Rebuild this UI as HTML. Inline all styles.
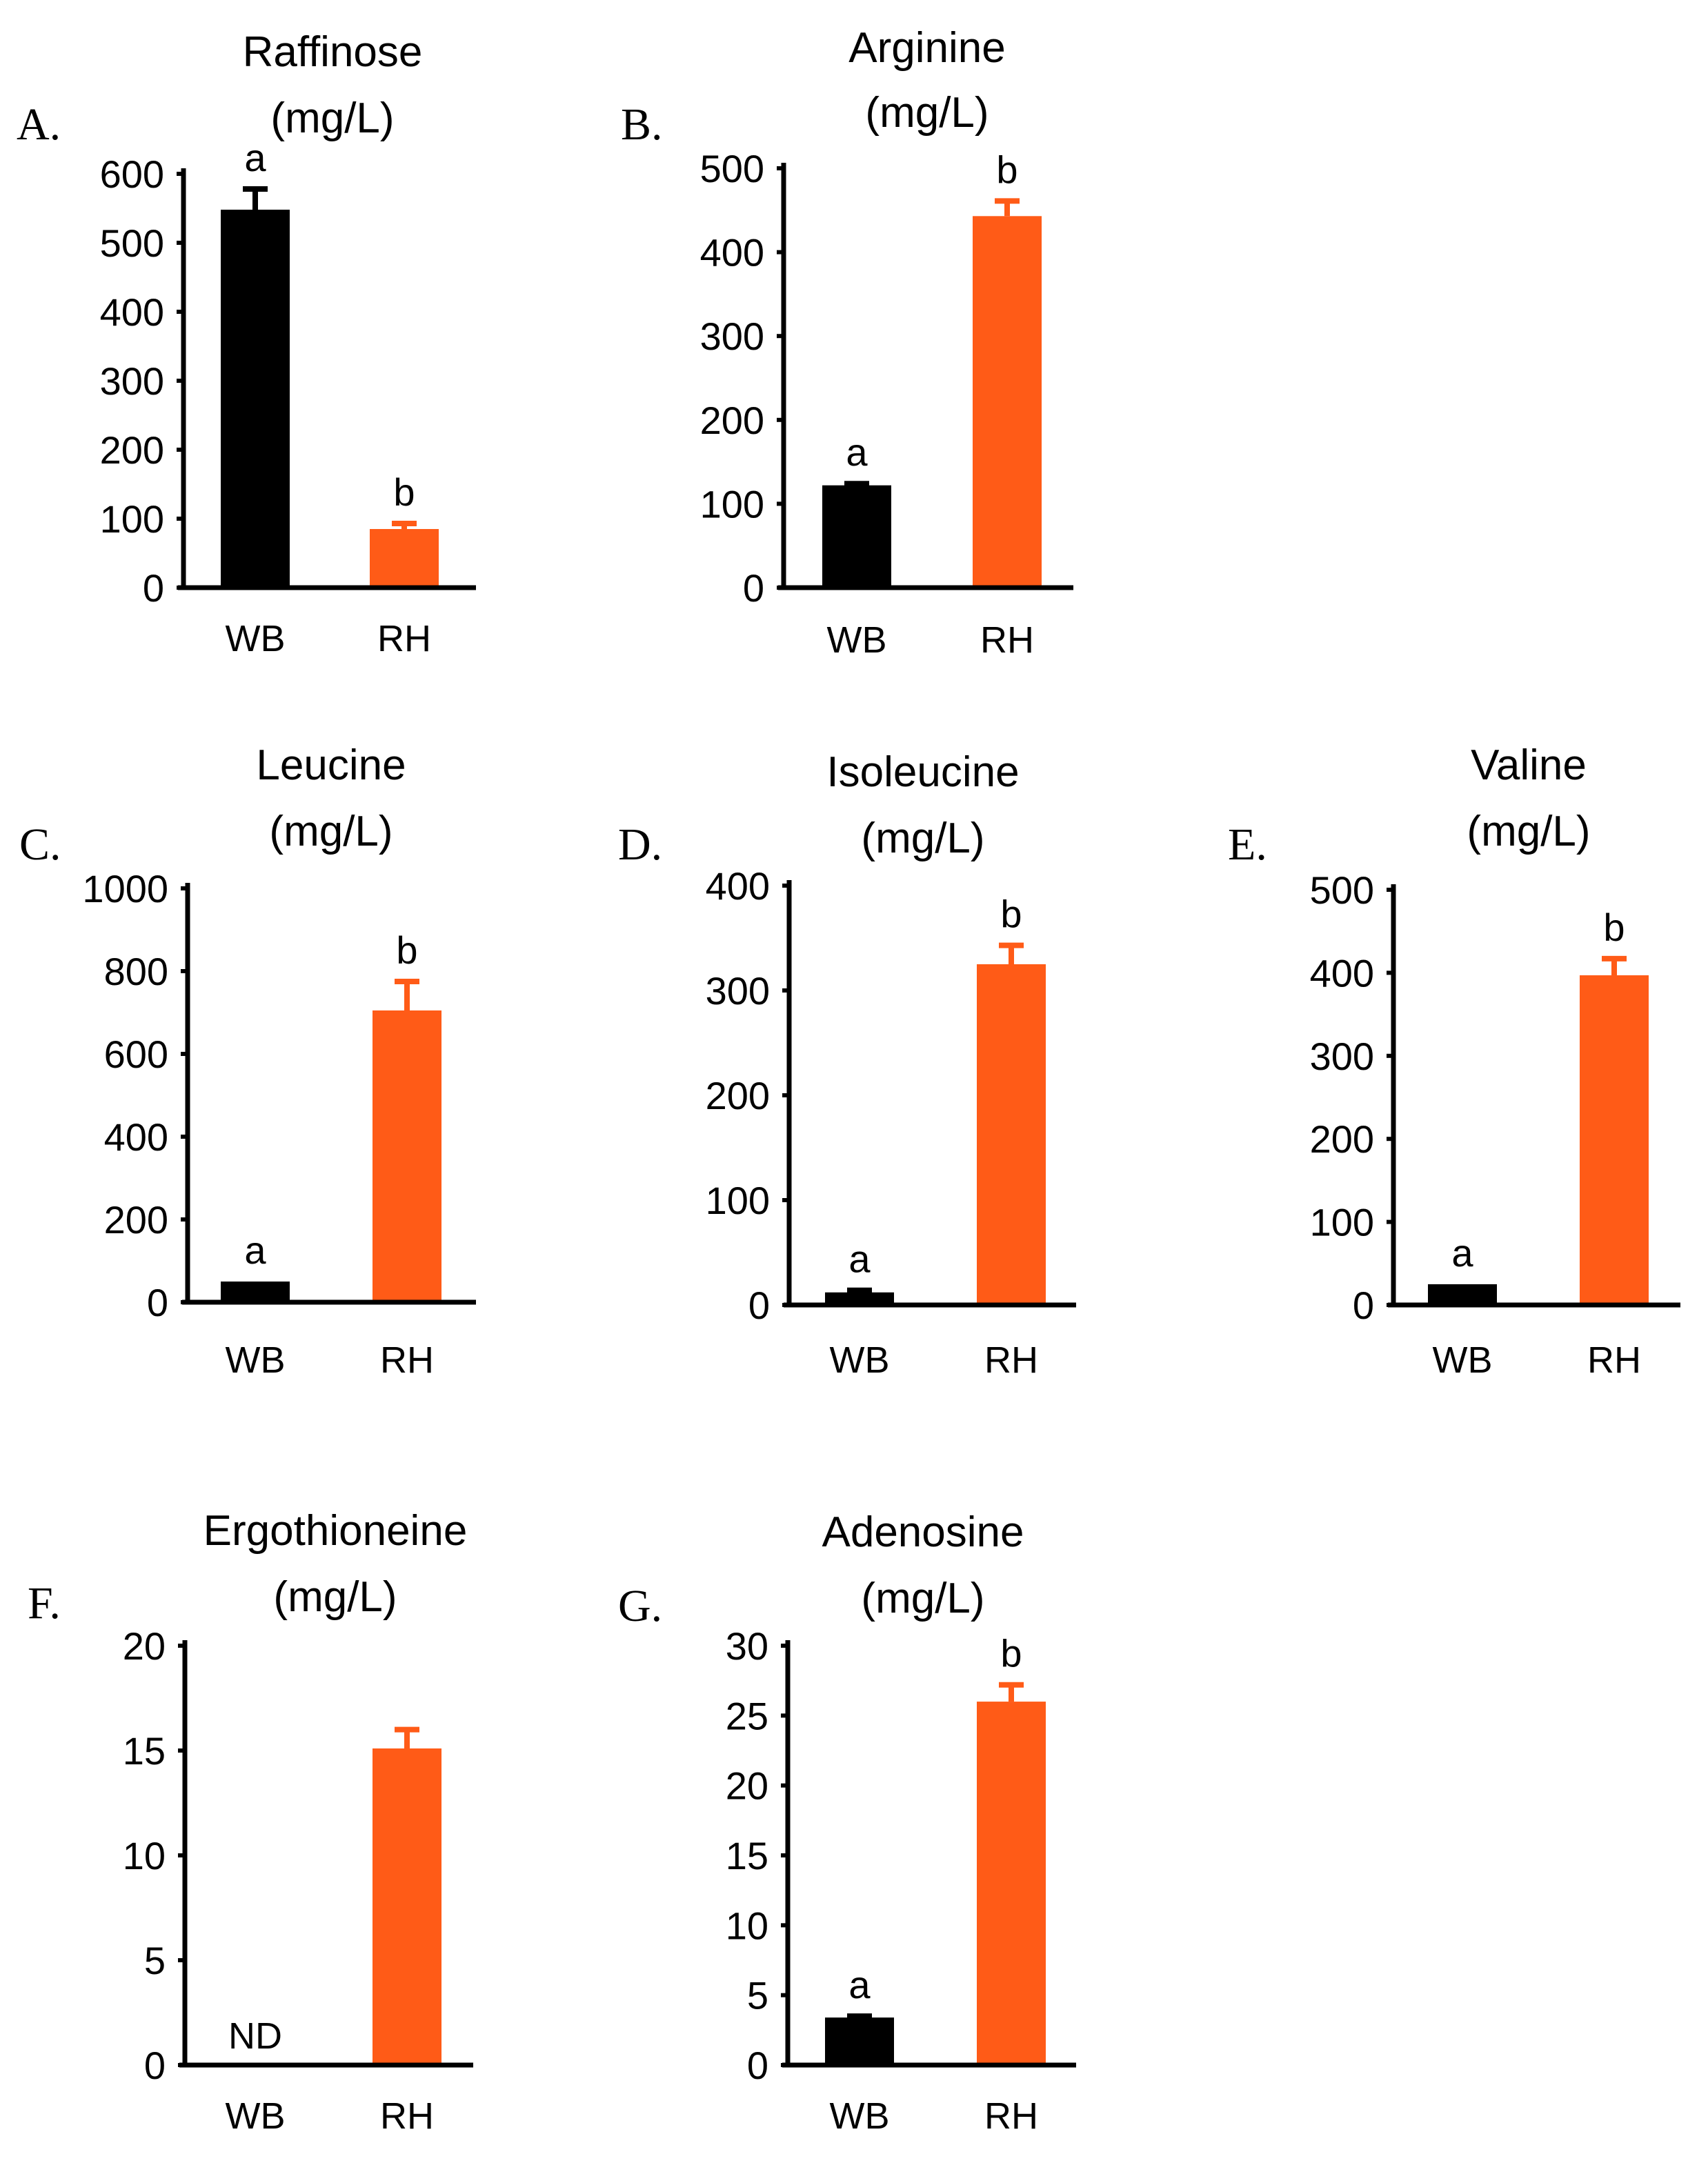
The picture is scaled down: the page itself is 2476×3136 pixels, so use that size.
<!DOCTYPE html>
<html><head><meta charset="utf-8"><style>
html,body{margin:0;padding:0;background:#fff;}
svg{display:block;}
text{font-family:"Liberation Sans",sans-serif;fill:#000;}
.ser{font-family:"Liberation Serif",serif;}
</style></head><body>
<svg id="fig" width="2476" height="3136" viewBox="0 0 1238 1568" xmlns="http://www.w3.org/2000/svg"></svg>
<script>
// data arrays
const panelTitles = ["Raffinose","Arginine","Leucine","Isoleucine","Valine","Ergothioneine","Adenosine"];
const panelLetters = ["A.","B.","C.","D.","E.","F.","G."];
const categories = ["WB","RH"];
const wbValues = [548,122,50,12,25,0,3.4];
const rhValues = [85,443,705,325,397,15.1,26];
const wbErrors = [30,2,0,2,0,0,0.1];
const rhErrors = [8,18,70,18,20,0.9,1.2];
const yMaxes = [600,500,1000,400,500,20,30];
const yStepsArr = [100,100,200,100,100,5,5];
const wbSig = ["a","a","a","a","a","ND","a"];
const rhSig = ["b","b","b","b","b","","b"];

// layout (positions, not data)
const layout = [
 {ax:133,y0:426,yt:126,xe:345,wb:160,rh:268,tx:241,t1:38,t2:86,lx:12,ly:90,cy:462},
 {ax:568,y0:426,yt:122,xe:778,wb:596,rh:705,tx:672,t1:35,t2:82,lx:450,ly:90,cy:463},
 {ax:136,y0:944,yt:644,xe:345,wb:160,rh:270,tx:240,t1:555,t2:603,lx:14,ly:612,cy:985},
 {ax:572,y0:946,yt:642,xe:780,wb:598,rh:708,tx:669,t1:560,t2:608,lx:448,ly:612,cy:985},
 {ax:1010,y0:946,yt:645,xe:1218,wb:1035,rh:1145,tx:1108,t1:555,t2:603,lx:890,ly:612,cy:985},
 {ax:134,y0:1497,yt:1193,xe:343,wb:160,rh:270,tx:243,t1:1110,t2:1158,lx:20,ly:1162,cy:1533},
 {ax:571,y0:1497,yt:1193,xe:780,wb:598,rh:708,tx:669,t1:1111,t2:1159,lx:448,ly:1164,cy:1533}
];
const NS="http://www.w3.org/2000/svg";
const svg=document.getElementById('fig');
function mk(tag,attrs,parent,txt){const e=document.createElementNS(NS,tag);for(const k in attrs)e.setAttribute(k,attrs[k]);if(txt!==undefined)e.textContent=txt;parent.appendChild(e);return e;}
const BW=50, ORANGE="#FF5B17";
layout.forEach((L,i)=>{
  const g=mk('g',{},svg);
  
  
  const y=v=>L.y0-(v/yMaxes[i])*(L.y0-L.yt);
  const t1=mk('text',{x:L.tx,y:L.t1+10,'text-anchor':'middle','font-size':31},g,panelTitles[i]);
  
  
  const t2=mk('text',{x:L.tx,y:L.t2+10,'text-anchor':'middle','font-size':31},g,"(mg/L)");
  
  
  const lt=mk('text',{x:L.lx,y:L.ly+11,'font-size':33,class:'ser'},g,panelLetters[i]);
  
  
  [[wbValues[i],wbErrors[i],L.wb,'#000',wbSig[i],'bar-wb'],[rhValues[i],rhErrors[i],L.rh,ORANGE,rhSig[i],'bar-rh']].forEach(b=>{
    const [v,e,x,c,s,nm]=b;
    if(v>0){
      const r=mk('rect',{x:x,y:y(v),width:BW,height:L.y0-y(v),fill:c},g);
      
      
      if(e>0){
        const eb=mk('path',{d:`M${x+BW/2} ${y(v)} V${y(v+e)} M${x+BW/2-9} ${y(v+e)} H${x+BW/2+9}`,stroke:c,'stroke-width':4,fill:'none'},g);
        
        
      }
    }
    if(s){
      const top = s==="ND" ? L.y0-12 : y(v+e)-13;
      const st=mk('text',{x:x+BW/2,y:top,'text-anchor':'middle','font-size':s==="ND"?27:28},g,s);
      
      
    }
  });
  const ya=mk('line',{x1:L.ax,y1:L.yt-4,x2:L.ax,y2:L.y0+1,stroke:'#000','stroke-width':3.5},g);
  
  
  const xa=mk('line',{x1:L.ax-4,y1:L.y0,x2:L.xe,y2:L.y0,stroke:'#000','stroke-width':3.5},g);
  
  
  for(let v=0;v<=yMaxes[i]+1e-9;v+=yStepsArr[i]){
    mk('line',{x1:L.ax-5,y1:y(v),x2:L.ax,y2:y(v),stroke:'#000','stroke-width':3},g);
    const tl=mk('text',{x:L.ax-14,y:y(v)+10,'text-anchor':'end','font-size':28},g,String(v));
    
    
  }
  [L.wb,L.rh].forEach((x,k)=>{
    const cl=mk('text',{x:x+BW/2,y:L.cy+10,'text-anchor':'middle','font-size':27},g,categories[k]);
    
    
  });
});
</script>
</body></html>
